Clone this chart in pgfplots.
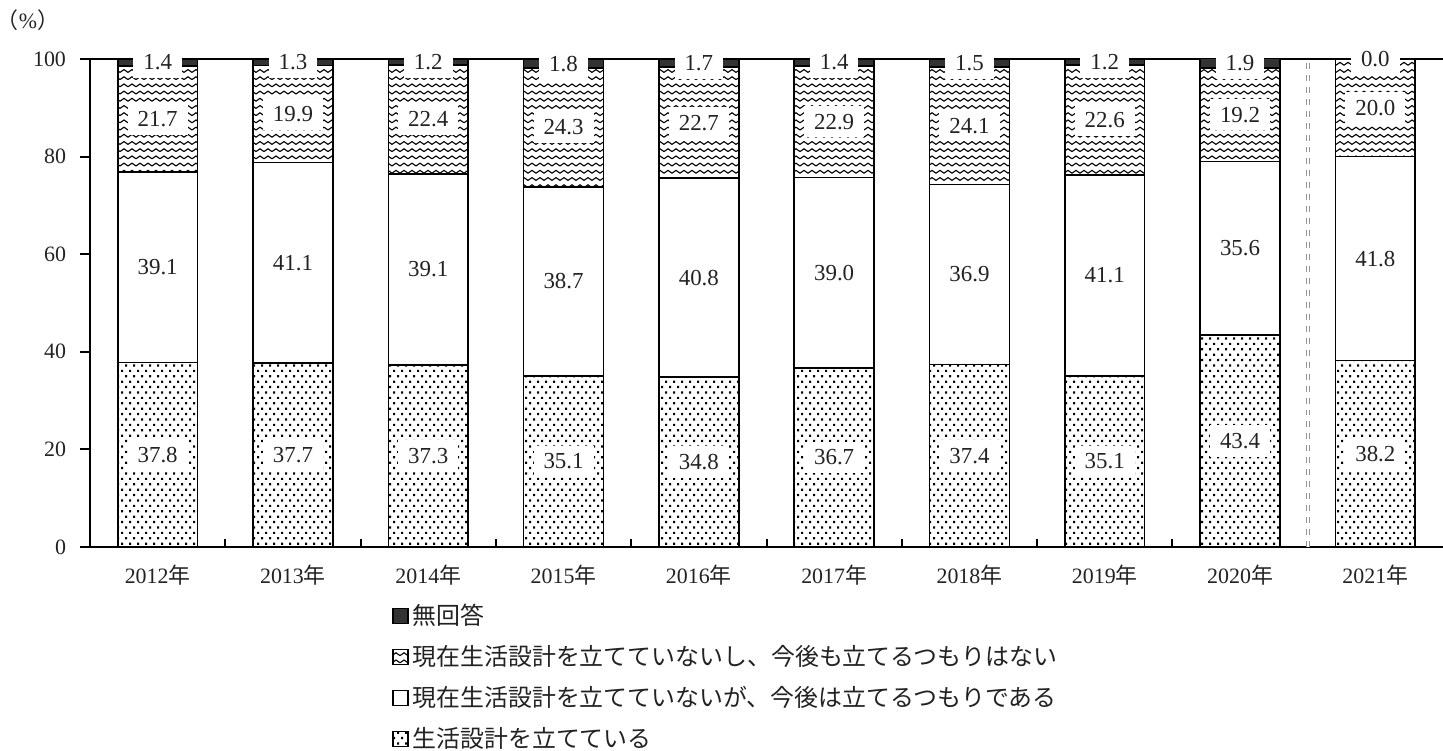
\documentclass[border=0pt]{standalone}
\usepackage{fontspec}
\setmainfont{Liberation Serif}
\newfontfamily\cjk{Noto Sans CJK JP}
\usepackage{pgfplots}
\usepackage{pgfplotstable}
\pgfplotsset{compat=1.18}
\usetikzlibrary{patterns}
\definecolor{noans}{HTML}{333333}
\definecolor{txt}{HTML}{222222}

% dotted fill for the bottom series
\pgfdeclarepatternformonly{dotsq}{\pgfpoint{-0.1bp}{-0.1bp}}{\pgfpoint{4.1bp}{5.5bp}}{\pgfpoint{4bp}{5.4bp}}{%
  \pgfpathrectangle{\pgfpoint{0.5bp}{0.5bp}}{\pgfpoint{1.1bp}{1.1bp}}%
  \pgfpathrectangle{\pgfpoint{2.5bp}{3.2bp}}{\pgfpoint{1.1bp}{1.1bp}}%
  \pgfusepath{fill}}
% zigzag fill for the third series
\pgfdeclarepatternformonly{wave}{\pgfpoint{-0.5bp}{-0.5bp}}{\pgfpoint{4.5bp}{4bp}}{\pgfpoint{4bp}{3.6bp}}{%
  \pgfsetlinewidth{0.55bp}%
  \pgfpathmoveto{\pgfpoint{0bp}{0.9bp}}%
  \pgfpathlineto{\pgfpoint{2bp}{2.3bp}}%
  \pgfpathlineto{\pgfpoint{4bp}{0.9bp}}%
  \pgfusepath{stroke}}

% nah: height drawn for the "no answer" part (a zero bar gets no label otherwise)
\pgfplotstableread{
x  plan  will  wont  na   nah
0  37.8  39.1  21.7  1.4  1.4
1  37.7  41.1  19.9  1.3  1.3
2  37.3  39.1  22.4  1.2  1.2
3  35.1  38.7  24.3  1.8  1.8
4  34.8  40.8  22.7  1.7  1.7
5  36.7  39.0  22.9  1.4  1.4
6  37.4  36.9  24.1  1.5  1.5
7  35.1  41.1  22.6  1.2  1.2
8  43.4  35.6  19.2  1.9  1.9
9  38.2  41.8  20.0  0.0  0.001
}\survey

\begin{document}
\begin{tikzpicture}
\pgfplotsset{/pgf/number format/assume math mode=true}
\begin{axis}[
    name=ax,
    scale only axis,
    width=676.5bp, height=244bp,
    xmin=-0.5, xmax=9.5, ymin=0, ymax=100,
    ybar stacked,
    bar width=0.59,
    clip=false,
    axis x line*=box, axis y line*=left,
    axis line style={line width=1bp, -},
    xtick={0,...,9},
    xticklabels={2012{\cjk 年},2013{\cjk 年},2014{\cjk 年},2015{\cjk 年},2016{\cjk 年},2017{\cjk 年},2018{\cjk 年},2019{\cjk 年},2020{\cjk 年},2021{\cjk 年}},
    every major x tick/.append style={draw=none},
    minor xtick={0.5,1.5,...,7.5},
    minor tick length=4bp,
    xtick align=inside,
    xtick pos=bottom,
    ytick={0,20,...,100},
    ytick align=outside, ytick pos=left,
    major tick length=5bp,
    tick style={line width=1bp, black},
    ticklabel style={font=\fontsize{11}{13}\selectfont, text=txt},
    xticklabel style={yshift=-5.5bp},
    yticklabel style={xshift=-3.5bp},
    nodes near coords={\pgfmathprintnumber[fixed,fixed zerofill,precision=1]{\pgfplotspointmeta}},
    every node near coord/.append style={
        anchor=center,
        font=\fontsize{11.5}{13}\selectfont, text=txt,
        fill=white, inner xsep=5bp, inner ysep=4bp},
    legend image code/.code={\draw[#1, line width=0.6bp] (0bp,-3.7bp) rectangle (7.5bp,3.7bp);},
    reverse legend,
    legend cell align=left,
    legend style={draw=none, fill=none, at={(0.2232,-0.108)}, anchor=north west,
        font=\cjk\fontsize{12}{14}\selectfont, row sep=4.9bp, inner sep=0pt, text=txt},
]
\addplot[draw=black, line width=0.8bp, pattern=dotsq, pattern color=black] table[x=x, y=plan] {\survey};
\addplot[draw=black, line width=0.8bp, fill=white] table[x=x, y=will] {\survey};
\addplot[draw=black, line width=0.8bp, pattern=wave, pattern color=black] table[x=x, y=wont] {\survey};
\addplot[draw=black, line width=0.8bp, fill=noans, point meta=explicit] table[x=x, y=nah, meta=na] {\survey};
\legend{生活設計を立てている, 現在生活設計を立てていないが、今後は立てるつもりである, 現在生活設計を立てていないし、今後も立てるつもりはない, 無回答}
% separator between 2020 and 2021
\draw[draw=gray!85, dashed, line width=0.5bp, double=white, double distance=0.8bp]
    (axis cs:8.5,0) -- (axis cs:8.5,100);
\end{axis}
\node[font=\fontsize{11}{13}\selectfont, text=txt] at ([xshift=-31bp, yshift=19.5bp]ax.north west) {{\cjk （}\%{\cjk ）}};
\pgfresetboundingbox
\useasboundingbox (ax.south west) ++(-45bp,-102bp) rectangle ++(721.5bp,375.5bp);
\end{tikzpicture}
\end{document}
